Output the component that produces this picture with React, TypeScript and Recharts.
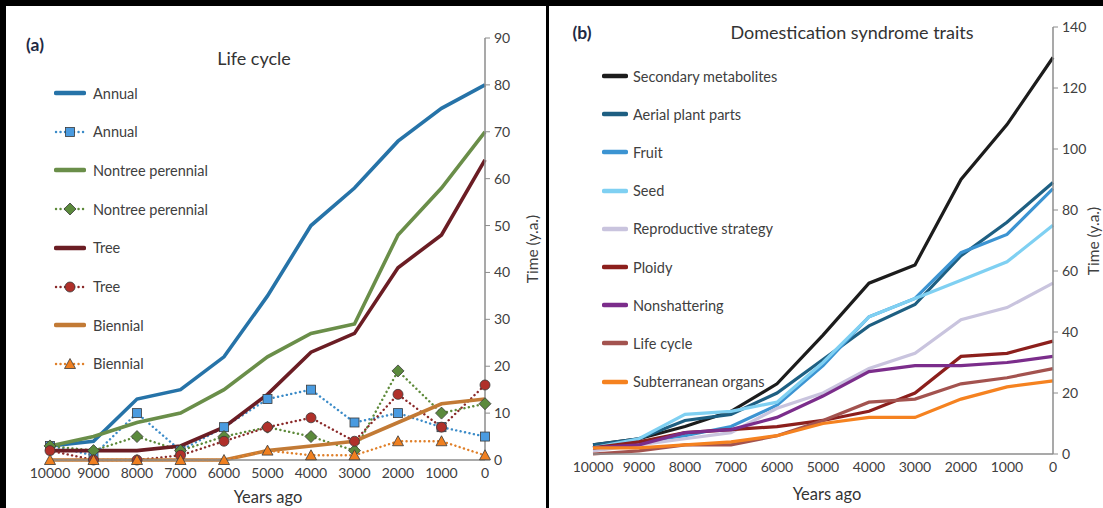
import React from 'react'
import { LineChart, Line, XAxis, YAxis } from 'recharts'

const years = ['10000', '9000', '8000', '7000', '6000', '5000', '4000', '3000', '2000', '1000', '0']

// (a) life cycle, solid = cumulative, dotted = new per millennium
const annual = [3, 4, 13, 15, 22, 35, 50, 58, 68, 75, 80]
const annualNew = [3, 1, 10, 2, 7, 13, 15, 8, 10, 7, 5]
const nontree = [3, 5, 8, 10, 15, 22, 27, 29, 48, 58, 70]
const nontreeNew = [3, 2, 5, 2, 5, 7, 5, 2, 19, 10, 12]
const tree = [2, 2, 2, 3, 7, 14, 23, 27, 41, 48, 64]
const treeNew = [2, 0, 0, 1, 4, 7, 9, 4, 14, 7, 16]
const biennial = [0, 0, 0, 0, 0, 2, 3, 4, 8, 12, 13]
const biennialNew = [0, 0, 0, 0, 0, 2, 1, 1, 4, 4, 1]
const ticksA = [0, 10, 20, 30, 40, 50, 60, 70, 80, 90]

// (b) domestication syndrome traits
const secondary = [3, 5, 9, 14, 23, 39, 56, 62, 90, 108, 130]
const aerial = [3, 5, 11, 13, 20, 31, 42, 49, 65, 76, 89]
const fruit = [2, 4, 6, 9, 16, 29, 45, 51, 66, 72, 87]
const seed = [2, 5, 13, 14, 17, 30, 45, 51, 57, 63, 75]
const reproductive = [1, 3, 5, 7, 15, 20, 28, 33, 44, 48, 56]
const ploidy = [2, 4, 7, 8, 9, 11, 14, 20, 32, 33, 37]
const nonshattering = [2, 3, 7, 8, 12, 19, 27, 29, 29, 30, 32]
const lifeCycle = [0, 1, 3, 3, 6, 11, 17, 18, 23, 25, 28]
const subterranean = [2, 2, 3, 4, 6, 10, 12, 12, 18, 22, 24]
const ticksB = [0, 20, 40, 60, 80, 100, 120, 140]

type Shape = 'square' | 'diamond' | 'circle' | 'triangle'

interface SeriesA {
  key: string
  name: string
  values: number[]
  color: string
  shape?: Shape
  fill?: string
}

const seriesA: SeriesA[] = [
  { key: 'annual', name: 'Annual', values: annual, color: '#2673a8' },
  { key: 'annualNew', name: 'Annual', values: annualNew, color: '#3b8bc8', shape: 'square', fill: '#4a9be0' },
  { key: 'nontree', name: 'Nontree perennial', values: nontree, color: '#6a8e49' },
  { key: 'nontreeNew', name: 'Nontree perennial', values: nontreeNew, color: '#5e8a3a', shape: 'diamond', fill: '#5b8a3c' },
  { key: 'tree', name: 'Tree', values: tree, color: '#6b1d24' },
  { key: 'treeNew', name: 'Tree', values: treeNew, color: '#8b2a2a', shape: 'circle', fill: '#b0302a' },
  { key: 'biennial', name: 'Biennial', values: biennial, color: '#c27a35' },
  { key: 'biennialNew', name: 'Biennial', values: biennialNew, color: '#e0802a', shape: 'triangle', fill: '#f08020' },
]

const seriesB = [
  { key: 'secondary', name: 'Secondary metabolites', values: secondary, color: '#1c1c1c' },
  { key: 'aerial', name: 'Aerial plant parts', values: aerial, color: '#1e5f82' },
  { key: 'fruit', name: 'Fruit', values: fruit, color: '#3c94d2' },
  { key: 'seed', name: 'Seed', values: seed, color: '#7fd0f2' },
  { key: 'reproductive', name: 'Reproductive strategy', values: reproductive, color: '#c9c4de' },
  { key: 'ploidy', name: 'Ploidy', values: ploidy, color: '#8c1f1c' },
  { key: 'nonshattering', name: 'Nonshattering', values: nonshattering, color: '#7b2d8b' },
  { key: 'lifeCycle', name: 'Life cycle', values: lifeCycle, color: '#a3534f' },
  { key: 'subterranean', name: 'Subterranean organs', values: subterranean, color: '#f58220' },
]

const rowsA = years.map((year, i) => {
  const row: any = { year }
  seriesA.forEach(s => (row[s.key] = s.values[i]))
  return row
})

const rowsB = years.map((year, i) => {
  const row: any = { year }
  seriesB.forEach(s => (row[s.key] = s.values[i]))
  return row
})

const FONT = 'Lato, "Open Sans", sans-serif'
const TEXT = '#404040'
const AXIS = '#8c8c8c'

const Marker = ({ shape, cx, cy, fill }: { shape: Shape; cx: number; cy: number; fill: string }) => {
  const stroke = '#3a3a3a'
  if (shape === 'square')
    return <rect x={cx - 4.5} y={cy - 4.5} width={9} height={9} fill={fill} stroke={stroke} strokeWidth={0.8} />
  if (shape === 'diamond')
    return (
      <polygon
        points={`${cx},${cy - 6} ${cx + 6},${cy} ${cx},${cy + 6} ${cx - 6},${cy}`}
        fill={fill}
        stroke={stroke}
        strokeWidth={0.8}
      />
    )
  if (shape === 'circle') return <circle cx={cx} cy={cy} r={5} fill={fill} stroke={stroke} strokeWidth={0.8} />
  return (
    <polygon
      points={`${cx},${cy - 5.5} ${cx + 5.5},${cy + 4.5} ${cx - 5.5},${cy + 4.5}`}
      fill={fill}
      stroke={stroke}
      strokeWidth={0.8}
    />
  )
}

const dotFor = (shape: Shape, fill: string) => (p: any) => {
  if (p.cx == null || p.cy == null) return <g key={`e-${p.index}`} />
  return (
    <g key={`${shape}-${p.index}`}>
      <Marker shape={shape} cx={p.cx} cy={p.cy} fill={fill} />
    </g>
  )
}

const tickStyle = { fill: TEXT, fontSize: 14, fontFamily: FONT }

const AxisTitle = ({ x, y, text }: { x: number; y: number; text: string }) => (
  <div
    style={{
      position: 'absolute',
      left: x,
      top: y,
      transform: 'translate(-50%, -50%) rotate(-90deg)',
      whiteSpace: 'nowrap',
      fontSize: 15.5,
      lineHeight: '16px',
      color: TEXT,
    }}
  >
    {text}
  </div>
)

const Centered = ({ x, y, text, size, bold }: { x: number; y: number; text: string; size: number; bold?: boolean }) => (
  <div
    style={{
      position: 'absolute',
      left: x,
      top: y,
      transform: 'translate(-50%, -50%)',
      whiteSpace: 'nowrap',
      fontSize: size,
      fontWeight: bold ? 700 : 400,
      color: bold ? '#1f2a44' : '#333',
    }}
  >
    {text}
  </div>
)

export default function App() {
  return (
    <div
      style={{
        position: 'absolute',
        left: 0,
        top: 0,
        width: 1103,
        height: 508,
        overflow: 'hidden',
        background: '#fff',
        fontFamily: FONT,
      }}
    >
      {/* panel a */}
      <div style={{ position: 'absolute', left: 0, top: 0 }}>
        <LineChart width={546} height={508} data={rowsA} margin={{ top: 38, right: 21, bottom: 18, left: 50 }}>
          <XAxis
            dataKey="year"
            interval={0}
            tickLine={false}
            tickSize={6}
            height={30}
            axisLine={{ stroke: AXIS, strokeWidth: 1.5 }}
            tick={tickStyle}
          />
          <YAxis
            orientation="right"
            width={40}
            domain={[0, 90]}
            ticks={ticksA}
            tickSize={5}
            tickMargin={4}
            axisLine={{ stroke: AXIS, strokeWidth: 1.5 }}
            tickLine={{ stroke: AXIS }}
            tick={{ ...tickStyle, textAnchor: 'start' }}
          />
          {seriesA.map(s =>
            s.shape ? (
              <Line
                key={s.key}
                dataKey={s.key}
                stroke={s.color}
                strokeWidth={2.4}
                strokeDasharray="0.1 4.4"
                strokeLinecap="round"
                dot={dotFor(s.shape, s.fill as string)}
                activeDot={false}
                isAnimationActive={false}
              />
            ) : (
              <Line
                key={s.key}
                dataKey={s.key}
                stroke={s.color}
                strokeWidth={3.6}
                dot={false}
                activeDot={false}
                isAnimationActive={false}
              />
            ),
          )}
        </LineChart>
      </div>

      {/* panel b */}
      <div style={{ position: 'absolute', left: 549, top: 0 }}>
        <LineChart width={554} height={508} data={rowsB} margin={{ top: 27, right: 10, bottom: 24, left: 44 }}>
          <XAxis
            dataKey="year"
            interval={0}
            tickLine={false}
            tickSize={6}
            height={30}
            axisLine={{ stroke: AXIS, strokeWidth: 1.5 }}
            tick={tickStyle}
          />
          <YAxis
            orientation="right"
            width={40}
            domain={[0, 140]}
            ticks={ticksB}
            tickSize={5}
            tickMargin={4}
            axisLine={{ stroke: AXIS, strokeWidth: 1.5 }}
            tickLine={{ stroke: AXIS }}
            tick={{ ...tickStyle, textAnchor: 'start' }}
          />
          {seriesB.map(s => (
            <Line
              key={s.key}
              dataKey={s.key}
              stroke={s.color}
              strokeWidth={3.2}
              dot={false}
              activeDot={false}
              isAnimationActive={false}
            />
          ))}
        </LineChart>
      </div>

      {/* legend a */}
      {seriesA.map((s, i) => (
        <div key={s.key} style={{ position: 'absolute', left: 54, top: 93 + i * 38.7 - 9, height: 18, display: 'flex', alignItems: 'center' }}>
          <svg width={32} height={16} style={{ display: 'block' }}>
            {s.shape ? (
              <>
                <line x1={2} y1={8} x2={30} y2={8} stroke={s.color} strokeWidth={2.4} strokeDasharray="0.1 4.4" strokeLinecap="round" />
                <Marker shape={s.shape} cx={16} cy={8} fill={s.fill as string} />
              </>
            ) : (
              <line x1={2} y1={8} x2={30} y2={8} stroke={s.color} strokeWidth={4.5} strokeLinecap="round" />
            )}
          </svg>
          <span style={{ marginLeft: 7, fontSize: 14.5, color: TEXT }}>{s.name}</span>
        </div>
      ))}

      {/* legend b */}
      {seriesB.map((s, i) => (
        <div key={s.key} style={{ position: 'absolute', left: 602, top: 76 + i * 38.2 - 9, height: 18, display: 'flex', alignItems: 'center' }}>
          <svg width={26} height={16} style={{ display: 'block' }}>
            <line x1={2} y1={8} x2={24} y2={8} stroke={s.color} strokeWidth={4.5} strokeLinecap="round" />
          </svg>
          <span style={{ marginLeft: 5, fontSize: 14.5, color: TEXT }}>{s.name}</span>
        </div>
      ))}

      <Centered x={35} y={44} text="(a)" size={17.5} bold />
      <Centered x={254} y={58} text="Life cycle" size={18} />
      <Centered x={268} y={497} text="Years ago" size={16.5} />
      <AxisTitle x={532} y={249} text="Time (y.a.)" />

      <Centered x={582} y={32} text="(b)" size={17.5} bold />
      <Centered x={852} y={32} text="Domestication syndrome traits" size={18} />
      <Centered x={827} y={494} text="Years ago" size={16.5} />
      <AxisTitle x={1093} y={241} text="Time (y.a.)" />

      {/* frame */}
      <div style={{ position: 'absolute', left: 0, top: 0, width: 1103, height: 6, background: '#000' }} />
      <div style={{ position: 'absolute', left: 0, top: 0, width: 6, height: 508, background: '#000' }} />
      <div style={{ position: 'absolute', left: 546, top: 0, width: 3, height: 508, background: '#000' }} />
    </div>
  )
}
